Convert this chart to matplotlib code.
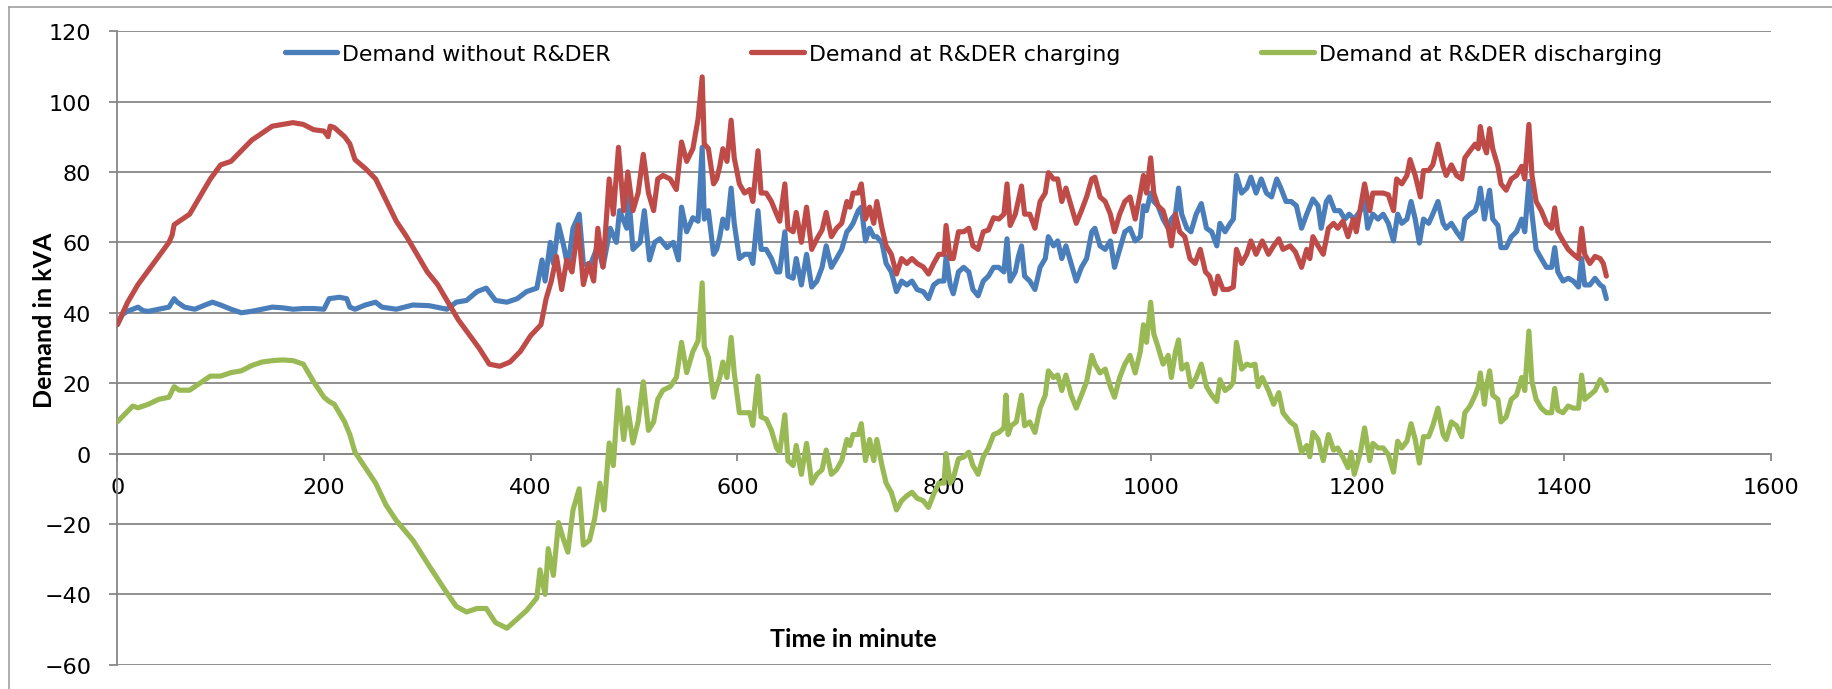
import matplotlib
matplotlib.use("Agg")
import matplotlib.pyplot as plt
from matplotlib.lines import Line2D

# ---------------- data ----------------
series_names = ["Demand without R&DER", "Demand at R&DER charging", "Demand at R&DER discharging"]

without_t = [0, 5, 10, 15, 20, 25, 30, 40, 50, 55, 58, 65, 75, 85, 92, 100, 110, 120, 130, 140,
             150, 160, 170, 180, 190, 200, 205, 215, 222, 225, 230, 240, 250, 256, 270, 286, 302, 319, 328, 338,
             348, 357, 366, 377, 387, 396, 406, 411, 414, 419, 422, 427, 432, 436, 441, 447, 451, 457, 465, 470,
             477, 483, 486, 493, 495, 499, 506, 510, 515, 520, 525, 532, 538, 543, 546, 551, 557, 562, 566, 568,
             572, 577, 580, 583, 586, 590, 594, 597, 602, 607, 612, 615, 620, 623, 628, 633, 638, 641, 646, 649,
             654, 657, 662, 667, 672, 677, 682, 686, 691, 696, 701, 706, 709, 712, 717, 720, 724, 728, 732, 735,
             740, 744, 749, 754, 759, 764, 769, 774, 780, 785, 790, 795, 800, 802, 806, 809, 814, 819, 824, 828,
             833, 838, 843, 848, 853, 858, 861, 864, 869, 872, 875, 878, 883, 888, 893, 898, 901, 906, 910, 914,
             918, 923, 928, 933, 938, 943, 946, 951, 956, 961, 965, 970, 975, 980, 985, 990, 993, 996, 1000, 1003,
             1007, 1012, 1017, 1020, 1024, 1027, 1030, 1035, 1039, 1044, 1049, 1054, 1059, 1064, 1067, 1072, 1077, 1080, 1083, 1088,
             1093, 1097, 1102, 1107, 1112, 1117, 1122, 1126, 1131, 1136, 1141, 1146, 1151, 1157, 1162, 1165, 1170, 1173, 1178, 1183,
             1188, 1192, 1197, 1203, 1207, 1210, 1215, 1220, 1225, 1230, 1235, 1239, 1243, 1248, 1252, 1256, 1260, 1264, 1269, 1273,
             1278, 1283, 1286, 1291, 1296, 1301, 1304, 1309, 1314, 1317, 1319, 1323, 1325, 1328, 1331, 1336, 1339, 1344, 1349, 1354,
             1359, 1362, 1366, 1369, 1373, 1378, 1383, 1388, 1391, 1394, 1399, 1404, 1409, 1414, 1417, 1420, 1425, 1430, 1435, 1438,
             1441]
without_v = [36.6, 39.5, 40.5, 41, 41.6, 40.6, 40.4, 41, 41.6, 44, 43, 41.6, 41, 42.2, 43, 42.2, 41, 40, 40.4, 41,
             41.6, 41.4, 41, 41.2, 41.2, 41, 44, 44.4, 44, 41.6, 41, 42.2, 43, 41.6, 41, 42.2, 42, 41, 43, 43.5,
             46, 47, 43.5, 43, 44, 46, 47, 55, 49, 60, 54, 65, 59, 53, 64, 68, 54, 53, 59, 53,
             64, 60, 69, 64, 73, 58, 60, 69, 55, 60, 61, 58.5, 60, 55, 70, 63, 67, 66, 87, 66.6,
             69, 56.6, 58, 61.6, 66.6, 64, 75.4, 65.4, 55.4, 56.6, 56.6, 54, 69, 58, 58, 55.4, 51.6, 51.6, 63, 50.4,
             49.8, 55.4, 47.9, 56.6, 47.3, 49, 52.9, 59, 52.9, 55.4, 58, 63, 64, 65.4, 69, 70, 60.4, 64, 61.6, 61.6,
             59.8, 54, 51.6, 46, 49, 47.9, 49, 46.6, 46, 44, 47.9, 49, 49, 56, 47.9, 45.4, 51.6, 52.9, 51.6, 46.6,
             44.8, 49, 50.4, 52.9, 52.9, 51.6, 61, 49, 51.6, 56, 59, 50.4, 49, 46.6, 52.9, 55.4, 61.6, 59, 60.4, 55.4,
             59, 54, 49, 52.9, 55.4, 63, 64, 59, 58, 60.4, 52.9, 58, 63, 64, 60.4, 61.6, 70.4, 69, 74, 71.6,
             70.4, 66.6, 64, 66.6, 68, 75.4, 68, 64, 63, 68, 71, 64, 63, 59, 65.4, 63, 65.4, 66.6, 79, 74,
             75.4, 78.5, 74, 78, 74, 72.9, 78, 75.4, 71.6, 71.6, 70.4, 64, 68, 72.3, 70.4, 64, 71.6, 72.9, 69, 69,
             66.6, 68, 66.6, 69, 71.6, 64, 68, 66.6, 68, 65.4, 60.4, 68, 65.4, 66.6, 71.6, 66.6, 59.8, 66.6, 65.4, 68,
             71.6, 65.4, 64, 65.4, 63, 61, 66.6, 68, 69, 71.6, 75.4, 66.6, 70.4, 74.8, 66.6, 64.8, 58.5, 58.5, 61.6, 63,
             66.6, 63, 77.3, 68, 58, 55.4, 52.9, 52.9, 58.5, 51.6, 49, 49.8, 49, 47.3, 55.4, 47.9, 47.9, 49.8, 47.9, 47.3,
             44]

charging_t = [0, 10, 20, 30, 40, 50, 53, 55, 60, 70, 80, 90, 100, 110, 120, 130, 140, 150, 160, 170,
              180, 190, 200, 204, 206, 210, 220, 225, 230, 240, 250, 260, 270, 280, 290, 300, 310, 320, 330, 340,
              350, 360, 370, 380, 390, 400, 410, 415, 420, 425, 430, 435, 440, 446, 451, 456, 461, 465, 470, 476,
              480, 485, 490, 494, 499, 504, 509, 514, 519, 523, 528, 535, 541, 546, 551, 557, 562, 566, 568, 572,
              577, 580, 583, 586, 590, 594, 597, 602, 607, 612, 615, 620, 623, 628, 633, 638, 641, 646, 649, 654,
              657, 662, 667, 672, 677, 682, 686, 691, 696, 701, 706, 709, 712, 717, 720, 724, 728, 732, 735, 740,
              744, 749, 754, 759, 764, 769, 774, 780, 785, 790, 795, 800, 802, 806, 809, 814, 819, 824, 828, 833,
              838, 843, 848, 853, 858, 861, 864, 869, 872, 875, 878, 883, 888, 893, 898, 901, 906, 910, 914, 918,
              923, 928, 933, 938, 943, 946, 951, 956, 961, 965, 970, 975, 980, 985, 990, 993, 996, 1000, 1003, 1007,
              1012, 1017, 1020, 1024, 1028, 1033, 1038, 1043, 1048, 1053, 1057, 1062, 1065, 1070, 1075, 1080, 1083, 1088, 1093, 1097,
              1102, 1108, 1114, 1119, 1124, 1128, 1135, 1140, 1146, 1151, 1154, 1157, 1162, 1167, 1172, 1177, 1181, 1186, 1191, 1196,
              1199, 1204, 1207, 1212, 1215, 1220, 1225, 1230, 1235, 1238, 1243, 1248, 1251, 1256, 1261, 1264, 1269, 1273, 1278, 1283,
              1286, 1291, 1296, 1301, 1304, 1309, 1314, 1317, 1319, 1322, 1325, 1328, 1331, 1336, 1339, 1344, 1349, 1354, 1359, 1362,
              1366, 1369, 1373, 1378, 1383, 1388, 1391, 1394, 1399, 1404, 1409, 1414, 1417, 1420, 1425, 1430, 1435, 1438, 1441]
charging_v = [36.6, 43, 48, 52, 56, 60, 62, 65, 66, 68, 73, 78, 82, 83, 86, 89, 91, 93, 93.5, 94,
              93.5, 92, 91.6, 90, 93, 92.6, 90, 88, 83.5, 81, 78, 72, 66, 61.6, 56.6, 51.6, 48, 43, 38, 34,
              30, 25.4, 24.8, 26, 29, 33.5, 36.6, 44, 49, 56, 46.6, 55, 51.6, 65, 48, 54, 49, 64, 53, 78,
              68, 87, 69, 80, 69, 74, 85, 74, 69, 78, 79, 78, 75, 88.5, 83, 86.6, 95, 107, 88, 86.6,
              76.6, 78, 81.6, 86.6, 83, 94.7, 84, 76.6, 74, 75, 71.6, 86, 74, 74, 71.6, 68, 66, 76.6, 64, 63,
              68.5, 60, 70, 58, 61, 63.5, 68.5, 61.6, 64, 65.4, 71.6, 70, 74, 74, 76.6, 66.6, 70, 65.4, 71.6, 64,
              59, 56.6, 51, 55.4, 54, 55.4, 54, 53, 51, 54, 56.6, 56.6, 64.8, 55.4, 55.4, 63, 63, 64, 59, 58,
              63, 63.5, 67, 66.6, 68, 76.6, 64.8, 68, 72, 76, 68, 68, 64, 71.6, 74, 79.8, 78, 78, 71.6, 75.4,
              70.4, 65.4, 69, 72.9, 78, 78.5, 72.9, 71.6, 68, 63, 68, 71.6, 72.9, 66.6, 74, 79, 74, 84, 74, 70.4,
              69, 64, 59, 68, 63, 61.6, 55.4, 54, 58, 51.6, 50.4, 45.4, 50.4, 46.6, 46.6, 47.3, 58, 54, 56.6, 60.4,
              56.6, 60.4, 56.6, 59, 61, 58, 59, 57.3, 52.9, 58, 55.4, 61.6, 59, 56.6, 64, 65.4, 64, 66, 61.6, 66.6,
              63, 71.6, 76.6, 69, 74, 74, 74, 73.5, 69, 78, 76.6, 79, 83.5, 79, 72.9, 80.4, 80.4, 82, 87.9, 81.6,
              79, 82, 79, 78, 84, 86, 87.9, 86.6, 92.9, 87.9, 85.4, 92.3, 86.6, 81.6, 76.6, 74.8, 78, 79, 81.6, 78,
              93.5, 79, 71.6, 69, 65.4, 64, 69.8, 63, 60.4, 58, 56.6, 55.4, 64, 56.6, 54, 56, 55.4, 54, 50.4]

discharging_t = [0, 10, 15, 20, 30, 40, 50, 55, 60, 70, 80, 90, 100, 110, 120, 130, 140, 150, 160, 170,
                 180, 190, 200, 205, 210, 220, 225, 230, 240, 250, 260, 270, 286, 302, 319, 328, 338, 348, 357, 366,
                 377, 387, 396, 406, 409, 414, 417, 422, 427, 432, 436, 441, 447, 451, 457, 462, 467, 471, 476, 480,
                 485, 490, 494, 499, 504, 509, 514, 519, 523, 528, 535, 541, 546, 551, 557, 562, 566, 568, 572, 577,
                 580, 583, 586, 590, 594, 597, 602, 607, 612, 615, 620, 623, 628, 633, 638, 641, 646, 649, 654, 657,
                 662, 667, 672, 677, 682, 686, 691, 696, 701, 706, 709, 712, 717, 720, 724, 728, 732, 735, 740, 744,
                 749, 754, 759, 764, 769, 774, 780, 785, 790, 795, 800, 802, 806, 809, 814, 819, 824, 828, 833, 838,
                 843, 848, 853, 858, 860, 862, 865, 870, 875, 878, 883, 888, 893, 898, 901, 906, 910, 914, 918, 923,
                 928, 933, 938, 943, 946, 951, 956, 961, 965, 970, 975, 980, 985, 990, 993, 996, 1000, 1003, 1007, 1012,
                 1017, 1020, 1024, 1027, 1030, 1035, 1039, 1044, 1049, 1054, 1059, 1064, 1067, 1072, 1077, 1080, 1083, 1088, 1093, 1097,
                 1101, 1104, 1108, 1114, 1119, 1124, 1128, 1135, 1140, 1146, 1151, 1154, 1157, 1162, 1167, 1172, 1177, 1181, 1186, 1191,
                 1194, 1197, 1203, 1207, 1212, 1215, 1220, 1225, 1230, 1235, 1239, 1243, 1248, 1252, 1256, 1260, 1264, 1269, 1273, 1278,
                 1283, 1286, 1291, 1296, 1301, 1304, 1309, 1314, 1317, 1319, 1323, 1325, 1328, 1331, 1336, 1339, 1344, 1349, 1354, 1359,
                 1362, 1366, 1369, 1373, 1378, 1383, 1388, 1391, 1394, 1399, 1404, 1409, 1414, 1417, 1420, 1425, 1430, 1435, 1438, 1441]
discharging_v = [9, 12, 13.5, 13, 14, 15.4, 16, 19, 18, 18, 20, 22, 22, 23, 23.5, 25, 26, 26.4, 26.6, 26.4,
                 25.4, 20.4, 16, 14.8, 14, 9, 5.4, 0.4, -4, -8.4, -14.6, -19, -24.6, -32, -39.6, -43.4, -45, -44, -44, -48,
                 -49.6, -47, -44.6, -41, -33, -40, -27, -34.6, -19.6, -24.6, -28, -16, -10, -26, -24.6, -18.4, -8.4, -16, 3, -3.4,
                 18, 4, 13, 3, 9, 20.4, 6.6, 9, 15.4, 18, 19, 21.6, 31.6, 23, 29, 32, 48.5, 30.4, 27.3, 16,
                 19, 21.6, 26, 21.6, 33, 23, 11.6, 11.6, 11.6, 8, 22, 10.4, 9.8, 6.6, 1.6, 0.4, 11, -2, -3.4, 2.3,
                 -5.9, 2.9, -8.4, -5.9, -4.6, 1, -5.9, -4.6, -2, 4, 2.3, 5.4, 5.4, 8.5, -2, 4, -2, 4, -3.4, -8.4,
                 -11, -16, -13.4, -12, -11, -12.7, -13.4, -15.3, -11.5, -8.4, -8.4, 0, -8.4, -7, -1.5, -1, 0.4, -3.4, -5.9, -1,
                 1.6, 5.4, 6, 7.3, 16.6, 5.4, 7.9, 9, 16.6, 7.9, 9, 6, 12.9, 16.6, 23.5, 21.6, 22.3, 17.9, 22.3, 16.6,
                 12.9, 16.6, 20.4, 27.9, 25.4, 22.9, 24, 19, 16, 21.6, 25.4, 27.9, 22.9, 29, 36.6, 31.6, 43, 34, 30.4, 25.4,
                 27.9, 21.6, 29, 32.3, 24, 25.4, 19, 21.6, 25.4, 19, 16.6, 14.8, 21, 17.9, 19, 20.4, 31.6, 24, 25.4, 25,
                 25.4, 19, 21.6, 17.9, 14, 17.3, 11.6, 9, 7.9, 0.4, 2.3, -0.9, 6, 4, -2, 5.4, 1, 1.6, -1, -4,
                 0.4, -5.9, 0.4, 7.3, -2, 2.9, 1.6, 1.6, -0.3, -5.3, 3.5, 1.6, 3.5, 8.5, 4, -2.7, 4.8, 4.8, 7.9, 12.9,
                 5.4, 4, 9, 7.9, 4.8, 11.6, 13.5, 16.6, 19, 22.9, 14, 19, 23.5, 16.6, 15.4, 9, 10.4, 15.4, 16.6, 21.6,
                 17.9, 34.8, 20.4, 15.4, 12.9, 11.6, 11.6, 18.5, 12.3, 11.6, 13.5, 12.9, 12.9, 22.3, 15.4, 16.6, 17.9, 21, 19.8, 17.9]

x_ticks = [0, 200, 400, 600, 800, 1000, 1200, 1400, 1600]
y_ticks = [-60, -40, -20, 0, 20, 40, 60, 80, 100, 120]
x_title = "Time in minute"
y_title = "Demand in kVA"

colors = ["#4A7EBB", "#BE4B48", "#98B954"]
grid_c = "#878787"

# ---------------- figure ----------------
W, H = 1833, 690
fig = plt.figure(figsize=(W / 100, (H - 0.01) / 100), dpi=100)
ax = fig.add_axes([117.3 / W, 1 - 665.8 / H, (1770.7 - 117.3) / W, (665.8 - 32.1) / H])

for t, v, c, name in zip([without_t, charging_t, discharging_t],
                         [without_v, charging_v, discharging_v], colors, series_names):
    ax.plot(t, v, color=c, lw=3.7, label=name, solid_joinstyle="round", solid_capstyle="round", zorder=3)

ax.set_xlim(0, 1600)
ax.set_ylim(-60, 120)
ax.set_xticks(x_ticks)
ax.set_yticks(y_ticks)
ax.grid(axis="y", color=grid_c, lw=1.3, zorder=0)
ax.set_axisbelow(True)

for s in ["top", "right"]:
    ax.spines[s].set_visible(False)
ax.spines["bottom"].set_position(("data", 0))
ax.spines["left"].set_color(grid_c)
ax.spines["bottom"].set_color(grid_c)
ax.spines["left"].set_linewidth(1.3)
ax.spines["bottom"].set_linewidth(1.3)

ax.tick_params(axis="y", direction="out", length=5.8, width=1.3, color=grid_c, pad=13,
               labelsize=16, labelcolor="black")
ax.tick_params(axis="x", direction="out", length=5, width=1.3, color=grid_c, pad=12,
               labelsize=16, labelcolor="black")
for lab in ax.get_xticklabels() + ax.get_yticklabels():
    lab.set_family("DejaVu Sans")

leg = ax.legend(loc="center", bbox_to_anchor=(0.5177, 0.964), ncol=3, frameon=False,
                fontsize=15.8, handlelength=2.4, handletextpad=0.23, columnspacing=6.4)
for line in leg.get_lines():
    line.set_linewidth(3.8)

fig.text(853 / W, 1 - 647 / H, x_title, ha="center", va="baseline",
         fontsize=18, fontweight="bold", family="Lato")
fig.text(45 / W, 1 - 320 / H, y_title, ha="center", va="center", rotation=90,
         fontsize=18, fontweight="bold", family="Lato")

# chart-area border (top and left visible in the cropped reference)
fig.add_artist(Line2D([9 / W, 1], [1 - 8 / H, 1 - 8 / H], transform=fig.transFigure,
                      color="#a0a0a0", lw=1.2))
fig.add_artist(Line2D([9 / W, 9 / W], [0, 1 - 8 / H], transform=fig.transFigure,
                      color="#a0a0a0", lw=1.2))

fig.savefig("out.png", dpi=100, facecolor="white")
